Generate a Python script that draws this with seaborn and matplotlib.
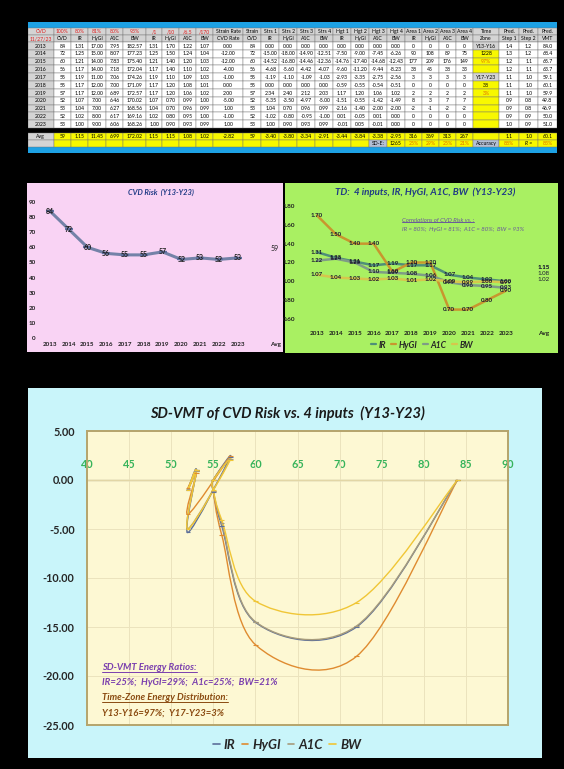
import numpy as np
import pandas as pd
import matplotlib
matplotlib.use("Agg")
import matplotlib.pyplot as plt
import seaborn as sns
from matplotlib.path import Path
from matplotlib.patches import PathPatch, Rectangle
from matplotlib.lines import Line2D

# --- data ---
years = [2013, 2014, 2015, 2016, 2017, 2018, 2019, 2020, 2021, 2022, 2023]
cvd = [84, 72, 60, 56, 55, 55, 57, 52, 53, 52, 53]
ir_raw = [1.31, 1.25, 1.21, 1.17, 1.19, 1.17, 1.17, 1.07, 1.04, 1.02, 1.00]
hygi_raw = [17.00, 15.00, 14.00, 14.00, 11.00, 12.00, 12.00, 7.00, 7.00, 8.00, 9.00]
a1c_raw = [7.95, 8.07, 7.83, 7.18, 7.06, 7.00, 6.89, 6.46, 6.27, 6.17, 6.06]
bw_raw = [182.57, 177.23, 175.40, 172.04, 174.26, 171.09, 172.57, 170.02, 168.56, 169.16, 168.26]
td_ir = [1.31, 1.25, 1.21, 1.17, 1.19, 1.17, 1.17, 1.07, 1.04, 1.02, 1.00]
td_hygi = [1.70, 1.50, 1.40, 1.40, 1.10, 1.20, 1.20, 0.70, 0.70, 0.80, 0.90]
td_a1c = [1.22, 1.24, 1.20, 1.10, 1.09, 1.08, 1.06, 0.99, 0.96, 0.95, 0.93]
td_bw = [1.07, 1.04, 1.03, 1.02, 1.03, 1.01, 1.02, 1.00, 0.99, 1.00, 0.99]
strain_rate = [0.00, -12.00, -12.00, -4.00, -1.00, 0.00, 2.00, -5.00, 1.00, -1.00, 1.00]
strs_ir = [0.00, -15.00, -14.52, -4.68, -1.19, 0.00, 2.34, -5.35, 1.04, -1.02, 1.00]
strs_hygi = [0.00, -18.00, -16.80, -5.60, -1.10, 0.00, 2.40, -3.50, 0.70, -0.80, 0.90]
strs_a1c = [0.00, -14.90, -14.46, -4.42, -1.09, 0.00, 2.12, -4.97, 0.96, -0.95, 0.93]
strs_bw = [0.00, -12.51, -12.36, -4.07, -1.03, 0.00, 2.03, -5.00, 0.99, -1.00, 0.99]
hgt_ir = [0.00, -7.50, -14.76, -9.60, -2.93, -0.59, 1.17, -1.51, -2.16, 0.01, -0.01]
hgt_hygi = [0.00, -9.00, -17.40, -11.20, -3.35, -0.55, 1.20, -0.55, -1.40, -0.05, 0.05]
hgt_a1c = [0.00, -7.45, -14.68, -9.44, -2.75, -0.54, 1.06, -1.42, -2.00, 0.01, -0.01]
hgt_bw = [0.00, -6.26, -12.43, -8.23, -2.56, -0.51, 1.02, -1.49, -2.00, 0.00, 0.00]
area_ir = [0, 90, 177, 38, 3, 0, 2, 8, -2, 0, 0]
area_hygi = [0, 108, 209, 45, 3, 0, 2, 3, -1, 0, 0]
area_a1c = [0, 89, 176, 38, 3, 0, 2, 7, -2, 0, 0]
area_bw = [0, 75, 149, 33, 3, 0, 2, 7, -2, 0, 0]
time_zone = ["Y13-Y16", "1228", "97%", "", "Y17-Y23", "38", "3%", "", "", "", ""]
pred_step1 = [1.4, 1.3, 1.2, 1.2, 1.1, 1.1, 1.1, 0.9, 0.9, 0.9, 1.0]
pred_step2 = [1.2, 1.2, 1.1, 1.1, 1.0, 1.0, 1.0, 0.8, 0.8, 0.9, 0.9]
pred_vmt = [84.0, 68.4, 65.7, 63.7, 59.1, 60.1, 59.9, 49.8, 46.9, 50.0, 51.0]

header1 = ["CVD", "100%", "80%", "81%", "80%", "93%", "/1", "/10", "/6.5", "/170",
           "Strain Rate", "Strain", "Strs 1", "Strs 2", "Strs 3", "Strs 4",
           "Hgt 1", "Hgt 2", "Hgt 3", "Hgt 4", "Area 1", "Area 2", "Area 3", "Area 4",
           "Time", "Pred.", "Pred.", "Pred."]
header2 = ["11/27/23", "CVD", "IR", "HyGI", "A1C", "BW", "IR", "HyGI", "A1C", "BW",
           "CVD Rate", "CVD", "IR", "HyGI", "A1C", "BW", "IR", "HyGI", "A1C", "BW",
           "IR", "HyGI", "A1C", "BW", "Zone", "Step 1", "Step 2", "VMT"]
avg_row = ["Avg", "59", "1.15", "11.45", "6.99", "172.02", "1.15", "1.15", "1.08", "1.02",
           "-2.82", "59", "-3.40", "-3.80", "-3.34", "-2.91", "-3.44", "-3.84", "-3.38", "-2.95",
           "316", "369", "313", "267", "", "1.1", "1.0", "60.1"]
last_row = [""] * 18 + ["SD-E:", "1265", "25%", "29%", "25%", "21%", "Accuracy", "88%", "R =", "83%"]

cvd_avg = 59
td_avg = [1.15, 1.15, 1.08, 1.02]
corr_text = "IR = 80%;  HyGI = 81%;  A1C = 80%;  BW = 93%"

W, H = 564, 769


def box(x0, y0, x1, y1):
    return [x0 / W, 1 - y1 / H, (x1 - x0) / W, (y1 - y0) / H]


sns.set_style("white")
plt.rcParams["font.family"] = ["Lato", "DejaVu Sans"]

fig = plt.figure(figsize=(W / 100, H / 100), dpi=100, facecolor="black")

# ---------------- table ----------------
ax_t = fig.add_axes(box(28, 22, 557, 153))
ax_t.set_xlim(28, 557)
ax_t.set_ylim(153, 22)
ax_t.axis("off")
ax_t.add_patch(Rectangle((28, 22), 529, 6, color="#1da1e4"))
ax_t.add_patch(Rectangle((28, 147), 529, 6, color="#1da1e4"))

widths = np.array([1.35, 0.95, 0.85, 1.0, 0.9, 1.2, 0.85, 0.9, 0.9, 0.9, 1.6, 0.95,
                   0.95, 0.95, 0.95, 0.95, 0.95, 0.95, 0.95, 0.95, 0.9, 0.9, 0.9, 0.9,
                   1.4, 1.05, 1.0, 1.0])
edges = 28 + np.concatenate([[0], np.cumsum(widths)]) * 529 / widths.sum()

GRAY = "#d4d4d4"
YEL = "#f8f800"
ORANGE = "#e06c00"


def cell(ci, y0, y1, text, bg, color="black", style="normal", weight="normal"):
    x0, x1 = edges[ci], edges[ci + 1]
    ax_t.add_patch(Rectangle((x0, y0), x1 - x0, y1 - y0, facecolor=bg,
                             edgecolor="#707070", lw=0.3))
    if text:
        ax_t.text((x0 + x1) / 2, (y0 + y1) / 2 + 0.2, text, ha="center", va="center",
                  fontsize=3.7, color=color, style=style, weight=weight)


for ci in range(28):
    cell(ci, 28, 35, header1[ci], GRAY, color="#e02020" if ci < 10 else "black")
    cell(ci, 35, 42, header2[ci], GRAY, color="#e02020" if ci == 0 else "black")

cols = [
    [str(y) for y in years], [str(v) for v in cvd],
    [f"{v:.2f}" for v in ir_raw], [f"{v:.2f}" for v in hygi_raw],
    [f"{v:.2f}" for v in a1c_raw], [f"{v:.2f}" for v in bw_raw],
    [f"{v:.2f}" for v in td_ir], [f"{v:.2f}" for v in td_hygi],
    [f"{v:.2f}" for v in td_a1c], [f"{v:.2f}" for v in td_bw],
    [f"{v:.2f}" for v in strain_rate], [str(v) for v in cvd],
    [f"{v:.2f}" for v in strs_ir], [f"{v:.2f}" for v in strs_hygi],
    [f"{v:.2f}" for v in strs_a1c], [f"{v:.2f}" for v in strs_bw],
    [f"{v:.2f}" for v in hgt_ir], [f"{v:.2f}" for v in hgt_hygi],
    [f"{v:.2f}" for v in hgt_a1c], [f"{v:.2f}" for v in hgt_bw],
    [str(v) for v in area_ir], [str(v) for v in area_hygi],
    [str(v) for v in area_a1c], [str(v) for v in area_bw],
    time_zone,
    [f"{v:.1f}" for v in pred_step1], [f"{v:.1f}" for v in pred_step2],
    [f"{v:.1f}" for v in pred_vmt],
]
rh = (128 - 42) / 11
for ri in range(11):
    y0 = 42 + ri * rh
    for ci in range(28):
        txt = cols[ci][ri]
        bg = "white"
        col = "black"
        if ci == 0:
            bg = GRAY
        if ci == 24:
            bg = GRAY if txt.startswith("Y") else YEL
            col = ORANGE if txt.endswith("%") else "black"
        cell(ci, y0, y0 + rh, txt, bg, color=col)

for ci in range(28):
    cell(ci, 133, 140, avg_row[ci], GRAY if ci == 0 else YEL)
    txt = last_row[ci]
    bg = YEL
    col = "black"
    if ci == 0:
        bg = GRAY
    if txt in ("SD-E:", "Accuracy"):
        bg = "#b4c0d6"
    if txt.endswith("%"):
        col = ORANGE
    cell(ci, 140, 147, txt, bg, color=col, style="italic" if txt == "R =" else "normal")

# ---------------- pink chart: CVD risk ----------------
bg_p = fig.add_axes(box(27, 183, 283, 352))
bg_p.set_facecolor("#f9d3f4")
bg_p.set_xticks([])
bg_p.set_yticks([])
for s in bg_p.spines.values():
    s.set_visible(False)

ax_p = fig.add_axes(box(40, 202, 282, 338))
ax_p.patch.set_alpha(0)
df_p = pd.DataFrame({"pos": range(len(years)), "cvd": cvd})
sns.lineplot(data=df_p, x="pos", y="cvd", ax=ax_p, color="#7482a8", lw=2.2,
             marker="_", ms=6, mew=1.6, mec="#6070a0")
for x, y in zip(df_p["pos"], df_p["cvd"]):
    ax_p.text(x, y, str(y), ha="center", va="center", fontsize=5,
              fontweight="bold", color="#1e1e1e")
ax_p.text(12, cvd_avg, str(cvd_avg), ha="center", va="center", fontsize=5, color="#1e1e1e")
ax_p.set_xlim(-0.53, 12.37)
ax_p.set_ylim(0, 90)
ax_p.set_yticks(range(0, 91, 10))
ax_p.set_xticks(list(range(len(years))) + [12])
ax_p.set_xticklabels([str(y) for y in years] + ["Avg"])
ax_p.tick_params(length=0, labelsize=4.5, pad=3, colors="#1e1e1e")
for lab in ax_p.get_xticklabels() + ax_p.get_yticklabels():
    lab.set_fontweight("bold")
ax_p.set_xlabel("")
ax_p.set_ylabel("")
for s in ax_p.spines.values():
    s.set_visible(False)
fig.text(161 / W, 1 - 192 / H, "CVD Risk  (Y13-Y23)", ha="center", va="center",
         fontsize=5.4, style="italic", weight="bold", color="#1f3a85")

# ---------------- green chart: TD ----------------
bg_g = fig.add_axes(box(285, 183, 558, 353))
bg_g.set_facecolor("#a9f062")
bg_g.set_xticks([])
bg_g.set_yticks([])
for s in bg_g.spines.values():
    s.set_visible(False)

ax_g = fig.add_axes(box(300, 206, 556, 319))
ax_g.patch.set_alpha(0)
td_series = {"IR": td_ir, "HyGI": td_hygi, "A1C": td_a1c, "BW": td_bw}
td_colors = {"IR": "#4f8f78", "HyGI": "#c8962e", "A1C": "#7f9c86", "BW": "#d6c64c"}
df_g = pd.DataFrame([
    {"pos": i, "series": k, "td": v}
    for k, vals in td_series.items() for i, v in enumerate(vals)
])
sns.lineplot(data=df_g, x="pos", y="td", hue="series", palette=td_colors, ax=ax_g,
             lw=1.8, legend=False)
for k, vals in td_series.items():
    for i, v in enumerate(vals):
        ax_g.text(i, v, f"{v:.2f}", ha="center", va="center", fontsize=4.4,
                  fontweight="bold", color="#1a1a30")
for v in td_avg:
    ax_g.text(12, v, f"{v:.2f}", ha="center", va="center", fontsize=4.4, color="#1a1a30")
ax_g.set_xlim(-0.9, 12.65)
ax_g.set_ylim(0.6, 1.8)
ax_g.set_yticks(np.arange(0.6, 1.81, 0.2))
ax_g.set_yticklabels([f"{t:.2f}" for t in np.arange(0.6, 1.81, 0.2)])
ax_g.set_xticks(list(range(len(years))) + [12])
ax_g.set_xticklabels([str(y) for y in years] + ["Avg"])
ax_g.tick_params(length=0, labelsize=4.6, colors="#1e1e1e")
ax_g.tick_params(axis="x", pad=9)
for lab in ax_g.get_xticklabels() + ax_g.get_yticklabels():
    lab.set_fontweight("bold")
ax_g.set_xlabel("")
ax_g.set_ylabel("")
for s in ax_g.spines.values():
    s.set_visible(False)
fig.text(425 / W, 1 - 192 / H, "TD:  4 inputs, IR, HyGI, A1C, BW  (Y13-Y23)", ha="center",
         va="center", fontsize=7.0, style="italic", weight="bold", color="#1f3a85")
t_corr = fig.text(402 / W, 1 - 220 / H, "Correlations of CVD Risk vs. :", fontsize=4.3,
                  style="italic", color="#6a5a9a", va="center")
fig.text(402 / W, 1 - 230 / H, corr_text, fontsize=4.3, style="italic", color="#6a5a9a",
         va="center")
g_handles = [Line2D([], [], color=td_colors[k], lw=1.6) for k in td_series]
fig.legend(g_handles, list(td_series), loc="center", bbox_to_anchor=(422 / W, 1 - 345 / H),
           ncol=4, frameon=False, handlelength=0.6, handletextpad=0.3, columnspacing=0.6,
           prop={"size": 6.2, "style": "italic", "weight": "bold"})

# ---------------- bottom chart: SD-VMT ----------------
bg_b = fig.add_axes(box(28, 388, 542, 758))
bg_b.set_facecolor("#c9f5fa")
bg_b.set_xticks([])
bg_b.set_yticks([])
for s in bg_b.spines.values():
    s.set_visible(False)

ax_b = fig.add_axes(box(87, 431, 508, 725))
ax_b.set_facecolor("#fdf8d3")
strs_series = {"IR": strs_ir, "HyGI": strs_hygi, "A1C": strs_a1c, "BW": strs_bw}
strs_colors = {"IR": "#5c6f9a", "HyGI": "#df8b30", "A1C": "#a79c7c", "BW": "#f0c636"}


def smooth_path(xs, ys):
    # Excel-style smoothed scatter line: cubic Bezier through every point
    pts = np.column_stack([xs, ys]).astype(float)
    n = len(pts)
    verts = [pts[0]]
    codes = [Path.MOVETO]
    for i in range(n - 1):
        p0 = pts[i - 1] if i > 0 else pts[i]
        p1, p2 = pts[i], pts[i + 1]
        p3 = pts[i + 2] if i + 2 < n else pts[i + 1]
        verts += [p1 + (p2 - p0) / 6, p2 - (p3 - p1) / 6, p2]
        codes += [Path.CURVE4] * 3
    return Path(verts, codes)


for k, vals in strs_series.items():
    ax_b.add_patch(PathPatch(smooth_path(cvd, vals), facecolor="none",
                             edgecolor=strs_colors[k], lw=1.0, zorder=3))
df_b = pd.DataFrame([
    {"cvd": c, "strs": v, "series": k}
    for k, vals in strs_series.items() for c, v in zip(cvd, vals)
])
sns.scatterplot(data=df_b, x="cvd", y="strs", hue="series", palette=strs_colors, ax=ax_b,
                marker="_", s=12, linewidth=0.8, legend=False, zorder=4)
ax_b.set_xlim(40, 90)
ax_b.set_ylim(-25, 5)
ax_b.set_xticks(range(40, 91, 5))
ax_b.set_yticks(range(-25, 6, 5))
ax_b.set_yticklabels([f"{t:.2f}" for t in range(-25, 6, 5)])
ax_b.grid(True, color="#ebe3bd", lw=0.7)
ax_b.axhline(0, color="#e2d6a6", lw=0.9, zorder=2)
ax_b.tick_params(axis="x", labelbottom=False, length=0)
ax_b.tick_params(axis="y", length=0, labelsize=7.8, pad=9)
for lab in ax_b.get_yticklabels():
    lab.set_fontweight("bold")
ax_b.set_xlabel("")
ax_b.set_ylabel("")
for s in ax_b.spines.values():
    s.set_color("#b5a46c")
    s.set_linewidth(1.4)
sec = ax_b.secondary_xaxis(25 / 30)
sec.set_xticks(range(40, 91, 5))
sec.tick_params(length=0, labelsize=7.8, colors="#36b35a", pad=7)
for lab in sec.get_xticklabels():
    lab.set_fontweight("bold")
sec.spines["bottom"].set_visible(False)

fig.text(287 / W, 1 - 413 / H, "SD-VMT of CVD Risk vs. 4 inputs  (Y13-Y23)", ha="center",
         va="center", fontsize=10.5, style="italic", weight="bold", color="#1a1a1a")
note_kw = dict(transform=ax_b.transAxes, fontsize=6.8, style="italic", weight="bold", va="center")
u1 = ax_b.text(0.036, 0.194, "SD-VMT Energy Ratios:", color="#7a3fae", **note_kw)
ax_b.text(0.036, 0.143, "IR=25%;  HyGI=29%;  A1c=25%;  BW=21%", color="#7a3fae", **note_kw)
u2 = ax_b.text(0.036, 0.092, "Time-Zone Energy Distribution:", color="#8a4a10", **note_kw)
ax_b.text(0.036, 0.041, "Y13-Y16=97%;  Y17-Y23=3%", color="#8a4a10", **note_kw)

b_handles = [Line2D([], [], color=strs_colors[k], lw=1.2) for k in strs_series]
fig.legend(b_handles, list(strs_series), loc="center", bbox_to_anchor=(287 / W, 1 - 745 / H),
           ncol=4, frameon=False, handlelength=0.5, handletextpad=0.3, columnspacing=0.5,
           prop={"size": 9.5, "style": "italic", "weight": "bold"})

# underline the note headings
fig.canvas.draw()
rend = fig.canvas.get_renderer()
for t in (u1, u2, t_corr):
    bb = t.get_window_extent(rend)
    fig.add_artist(Line2D([bb.x0 / W, bb.x1 / W], [(bb.y0 + 0.8) / H] * 2,
                          transform=fig.transFigure, color=t.get_color(), lw=0.7))

fig.savefig("out.png", dpi=100, facecolor="black")
